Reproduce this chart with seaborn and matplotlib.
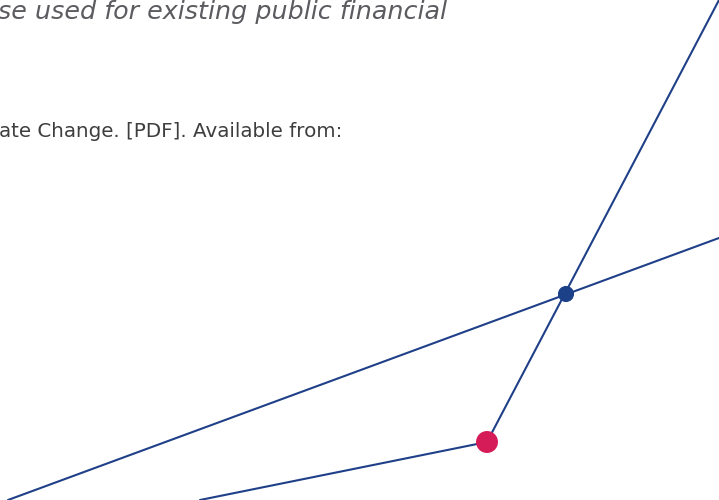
import pandas as pd
import matplotlib.pyplot as plt
import seaborn as sns

# node positions (page pixel coords, y grows downward)
node_names = ["hub", "pink"]
node_x = [566, 487]
node_y = [294, 442]
node_colors = ["#1d4189", "#d51c58"]
node_sizes = [135, 250]

# connecting lines, each one a start/end pair
line_ids = ["a", "a", "b", "b", "c", "c"]
line_x = [8, 719, 487, 719, 200, 487]
line_y = [500, 238, 442, 0, 500, 442]

text_top = "se used for existing public financial"
text_mid = "ate Change. [PDF]. Available from:"

sns.set_theme(style="white")
plt.rcParams["font.family"] = ["DejaVu Sans"]

fig = plt.figure(figsize=(7.19, 5.0), dpi=100)
ax = fig.add_axes([0, 0, 1, 1])

lines = pd.DataFrame({"line": line_ids, "x": line_x, "y": line_y})
sns.lineplot(data=lines, x="x", y="y", units="line", estimator=None, sort=False,
             color="#1f4088", linewidth=1.5, ax=ax)

nodes = pd.DataFrame({"name": node_names, "x": node_x, "y": node_y})
sns.scatterplot(data=nodes, x="x", y="y", hue="name", palette=node_colors,
                size="name", sizes=dict(zip(node_names, node_sizes)),
                linewidth=0, legend=False, ax=ax, zorder=3)

# top line is cut by the page edge, as in the source
ax.text(-2, 19, text_top, fontsize=18.3, style="italic",
        color="#5c5c60", va="baseline", ha="left")
ax.text(-1, 137, text_mid, fontsize=14.3,
        color="#3e3e40", va="baseline", ha="left")

ax.set_xlim(0, 719)
ax.set_ylim(500, 0)
ax.axis("off")

fig.savefig("out.png", dpi=100)
